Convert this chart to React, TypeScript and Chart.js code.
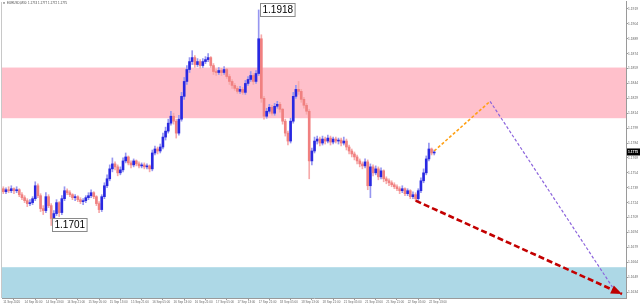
import React, { useEffect, useRef } from 'react';
import { Chart, registerables } from 'chart.js';

Chart.register(...registerables);

const SYMBOL = 'EURUSD,M30';

// time-axis labels, one every BARS_PER_LABEL bars
const timeLabels = [
  '11 Sep 2020', '14 Sep 05:00', '14 Sep 13:00', '14 Sep 21:00', '15 Sep 05:00',
  '15 Sep 13:00', '15 Sep 21:00', '16 Sep 05:00', '16 Sep 13:00', '16 Sep 21:00',
  '17 Sep 05:00', '17 Sep 13:00', '17 Sep 21:00', '18 Sep 05:00', '18 Sep 13:00',
  '18 Sep 21:00', '21 Sep 05:00', '21 Sep 13:00', '21 Sep 21:00', '22 Sep 05:00',
  '22 Sep 13:00',
];
const BARS_PER_LABEL = 8;

const firstOpen = 1.1738;

const closes = [
  1.1735, 1.1737, 1.1736, 1.1738, 1.1736, 1.1737, 1.1732, 1.1729, 1.1726, 1.1723,
  1.1724, 1.1728, 1.1741, 1.1731, 1.1718, 1.1716, 1.1730, 1.1721, 1.1708, 1.1713,
  1.1724, 1.1714, 1.1728, 1.1736, 1.1734, 1.1732, 1.1729, 1.1730, 1.1727, 1.1725,
  1.1726, 1.1729, 1.1731, 1.1734, 1.1730, 1.1723, 1.1717, 1.1730, 1.1741, 1.1748,
  1.1758, 1.1763, 1.1760, 1.1754, 1.1757, 1.1766, 1.1770, 1.1764, 1.1762, 1.1766,
  1.1763, 1.1761, 1.1762, 1.1760, 1.1761, 1.1758, 1.1774, 1.1778, 1.1776, 1.1780,
  1.1790, 1.1796, 1.1804, 1.1811, 1.1806, 1.1794, 1.1808, 1.1831, 1.1846, 1.1858,
  1.1866, 1.1870, 1.1863, 1.1866, 1.1862, 1.1866, 1.1868, 1.1870, 1.1862, 1.1856,
  1.1855, 1.1857, 1.1855, 1.1858, 1.1851, 1.1846, 1.1842, 1.1839, 1.1836, 1.1838,
  1.1835, 1.1844, 1.1848, 1.1852, 1.1846, 1.1854, 1.1889, 1.1829, 1.1811, 1.1816,
  1.1820, 1.1814, 1.1821, 1.1823, 1.1818, 1.1806, 1.1794, 1.1786, 1.1806, 1.1831,
  1.1838, 1.1836, 1.1828, 1.1822, 1.1816, 1.1766, 1.1776, 1.1786, 1.1788, 1.1784,
  1.1788, 1.1786, 1.1789, 1.1785, 1.1788, 1.1786, 1.1787, 1.1784, 1.1786, 1.1780,
  1.1776, 1.1773, 1.1770, 1.1766, 1.1763, 1.1761, 1.1765, 1.1741, 1.1760, 1.1754,
  1.1758, 1.1750, 1.1756, 1.1748, 1.1746, 1.1744, 1.1742, 1.1740, 1.1738, 1.1736,
  1.1738, 1.1733, 1.1736, 1.1730, 1.1732, 1.1728, 1.1736, 1.1746, 1.1754, 1.1768,
  1.1778, 1.1774, 1.1775,
];

const highs = [
  1.1740, 1.1739, 1.1740, 1.1741, 1.1739, 1.1740, 1.1738, 1.1734, 1.1731, 1.1728,
  1.1727, 1.1730, 1.1745, 1.1743, 1.1733, 1.1721, 1.1734, 1.1732, 1.1723, 1.1716,
  1.1727, 1.1725, 1.1731, 1.1740, 1.1738, 1.1736, 1.1733, 1.1732, 1.1731, 1.1729,
  1.1728, 1.1731, 1.1734, 1.1737, 1.1735, 1.1731, 1.1725, 1.1732, 1.1744, 1.1752,
  1.1762, 1.1769, 1.1765, 1.1762, 1.1760, 1.1769, 1.1774, 1.1771, 1.1766, 1.1768,
  1.1767, 1.1765, 1.1764, 1.1764, 1.1763, 1.1762, 1.1777, 1.1781, 1.1780, 1.1783,
  1.1794, 1.1800, 1.1808, 1.1816, 1.1814, 1.1808, 1.1812, 1.1835, 1.1850, 1.1862,
  1.1870, 1.1877, 1.1872, 1.1869, 1.1868, 1.1869, 1.1871, 1.1874, 1.1871, 1.1864,
  1.1858, 1.1860, 1.1859, 1.1861, 1.1859, 1.1853, 1.1848, 1.1844, 1.1841, 1.1841,
  1.1840, 1.1847, 1.1851, 1.1856, 1.1854, 1.1857, 1.1918, 1.1893, 1.1831, 1.1819,
  1.1823, 1.1822, 1.1824, 1.1826, 1.1825, 1.1819, 1.1808, 1.1796, 1.1809, 1.1835,
  1.1842, 1.1846, 1.1838, 1.1830, 1.1824, 1.1818, 1.1779, 1.1790, 1.1791, 1.1790,
  1.1791, 1.1790, 1.1792, 1.1791, 1.1790, 1.1790, 1.1789, 1.1789, 1.1790, 1.1788,
  1.1782, 1.1778, 1.1775, 1.1772, 1.1768, 1.1765, 1.1768, 1.1767, 1.1763, 1.1762,
  1.1761, 1.1760, 1.1759, 1.1757, 1.1750, 1.1748, 1.1746, 1.1744, 1.1742, 1.1740,
  1.1741, 1.1739, 1.1738, 1.1737, 1.1735, 1.1734, 1.1738, 1.1749, 1.1758, 1.1771,
  1.1784, 1.1779, 1.1777,
];

const lows = [
  1.1733, 1.1733, 1.1734, 1.1734, 1.1733, 1.1734, 1.1730, 1.1727, 1.1724, 1.1720,
  1.1721, 1.1722, 1.1726, 1.1729, 1.1715, 1.1712, 1.1714, 1.1719, 1.1701, 1.1705,
  1.1711, 1.1710, 1.1712, 1.1726, 1.1732, 1.1730, 1.1727, 1.1726, 1.1725, 1.1723,
  1.1722, 1.1724, 1.1727, 1.1729, 1.1728, 1.1721, 1.1714, 1.1715, 1.1728, 1.1739,
  1.1746, 1.1755, 1.1757, 1.1751, 1.1752, 1.1755, 1.1764, 1.1762, 1.1759, 1.1760,
  1.1761, 1.1759, 1.1759, 1.1758, 1.1758, 1.1755, 1.1756, 1.1772, 1.1773, 1.1774,
  1.1778, 1.1787, 1.1794, 1.1802, 1.1803, 1.1789, 1.1792, 1.1806, 1.1828, 1.1843,
  1.1855, 1.1863, 1.1860, 1.1861, 1.1859, 1.1860, 1.1864, 1.1866, 1.1860, 1.1853,
  1.1852, 1.1853, 1.1852, 1.1853, 1.1849, 1.1843, 1.1839, 1.1837, 1.1834, 1.1834,
  1.1833, 1.1833, 1.1842, 1.1846, 1.1843, 1.1844, 1.1852, 1.1825, 1.1808, 1.1809,
  1.1814, 1.1812, 1.1812, 1.1819, 1.1815, 1.1803, 1.1791, 1.1782, 1.1784, 1.1804,
  1.1829, 1.1833, 1.1825, 1.1819, 1.1813, 1.1748, 1.1762, 1.1774, 1.1783, 1.1781,
  1.1782, 1.1783, 1.1784, 1.1782, 1.1783, 1.1784, 1.1783, 1.1781, 1.1782, 1.1777,
  1.1773, 1.1770, 1.1767, 1.1763, 1.1760, 1.1758, 1.1759, 1.1737, 1.1729, 1.1751,
  1.1752, 1.1747, 1.1748, 1.1745, 1.1743, 1.1741, 1.1740, 1.1738, 1.1736, 1.1733,
  1.1734, 1.1731, 1.1731, 1.1728, 1.1728, 1.1726, 1.1726, 1.1734, 1.1744, 1.1752,
  1.1766, 1.1772, 1.1772,
];

const priceTicks = [
  1.1634, 1.1649, 1.1664, 1.1679, 1.1694, 1.1709, 1.1724, 1.1739, 1.1754, 1.1769,
  1.1784, 1.1799, 1.1814, 1.1829, 1.1844, 1.1859, 1.1874, 1.1889, 1.1904, 1.1919,
];

// zones [low, high]
const resistanceZone = [1.1809, 1.1860];
const supportZone = [1.1628, 1.1659];

// forecast paths: [barIndex, price]
const forecastOrange = [[162, 1.1776], [183, 1.1826]];
const forecastPurple = [[183, 1.1826], [229, 1.1639]];
const forecastRed = [[155, 1.1726], [232.6, 1.1632]];

const X_MIN = -0.5;
const X_MAX = 234.1;
const Y_MIN = 1.1628;
const Y_MAX = 1.1926;

const UP_BODY = 'rgb(40,40,225)';
const DOWN_BODY = 'rgb(240,128,128)';
const UP_WICK = 'rgb(150,150,240)';
const DOWN_WICK = 'rgb(246,170,170)';

const opens = closes.map((_, i) => (i === 0 ? firstOpen : closes[i - 1]));

const TICK_FONT = 'Liberation Sans';

export default function App() {
  const ref = useRef<HTMLCanvasElement | null>(null);

  useEffect(() => {
    const canvas = ref.current;
    if (!canvas) return;

    const isUp = closes.map((c, i) => c >= opens[i]);

    let hiIdx = 0;
    let loIdx = 0;
    highs.forEach((h, i) => { if (h > highs[hiIdx]) hiIdx = i; });
    lows.forEach((l, i) => { if (l < lows[loIdx]) loIdx = i; });

    const toPts = (arr: number[][]) => arr.map(([x, y]) => ({ x, y }));

    const bgPlugin = {
      id: 'bgzones',
      beforeDraw(chart: any) {
        const { ctx, width, height } = chart;
        ctx.save();
        ctx.fillStyle = '#ffffff';
        ctx.fillRect(0, 0, width, height);
        ctx.restore();
      },
      beforeDatasetsDraw(chart: any) {
        const { ctx, chartArea, scales } = chart;
        const { left, right, top, bottom } = chartArea;
        const y = scales.y;
        const zone = (z: number[], color: string) => {
          const y1 = Math.max(top, y.getPixelForValue(z[1]));
          const y2 = Math.min(bottom, y.getPixelForValue(z[0]));
          ctx.fillStyle = color;
          ctx.fillRect(left, y1, right - left, y2 - y1);
        };
        ctx.save();
        zone(resistanceZone, 'rgb(255,192,203)');
        zone(supportZone, 'rgb(173,216,230)');
        // left frame line
        ctx.strokeStyle = '#c8c8c8';
        ctx.lineWidth = 1;
        ctx.beginPath();
        ctx.moveTo(left - 0.5, top);
        ctx.lineTo(left - 0.5, bottom);
        ctx.stroke();
        ctx.restore();
      },
      afterDatasetsDraw(chart: any) {
        const { ctx, chartArea, scales } = chart;
        const xs = scales.x;
        const ys = scales.y;
        ctx.save();

        // arrow head on the red forecast
        const redMeta = chart.getDatasetMeta(4);
        const pts = redMeta.data;
        if (pts && pts.length >= 2) {
          const p0 = pts[pts.length - 2];
          const p1 = pts[pts.length - 1];
          const ang = Math.atan2(p1.y - p0.y, p1.x - p0.x);
          const len = 11;
          const half = 4.5;
          const bx = p1.x - len * Math.cos(ang);
          const by = p1.y - len * Math.sin(ang);
          ctx.fillStyle = 'rgb(190,0,0)';
          ctx.beginPath();
          ctx.moveTo(p1.x, p1.y);
          ctx.lineTo(bx + half * Math.sin(ang), by - half * Math.cos(ang));
          ctx.lineTo(bx - half * Math.sin(ang), by + half * Math.cos(ang));
          ctx.closePath();
          ctx.fill();
        }

        // extreme labels
        const label = (idx: number, price: number) => {
          const px = xs.getPixelForValue(idx);
          const py = ys.getPixelForValue(price);
          const txt = price.toFixed(4);
          ctx.font = `10px "${TICK_FONT}"`;
          const w = ctx.measureText(txt).width + 4;
          const bx = Math.round(px + 1) + 0.5;
          const by = Math.round(py - 7) + 0.5;
          ctx.fillStyle = 'rgba(255,255,255,0.9)';
          ctx.fillRect(bx, by, w, 13);
          ctx.strokeStyle = '#8a8a8a';
          ctx.lineWidth = 1;
          ctx.strokeRect(bx, by, w, 13);
          ctx.fillStyle = '#000';
          ctx.textBaseline = 'middle';
          ctx.textAlign = 'left';
          ctx.fillText(txt, bx + 2, by + 7);
        };
        label(hiIdx, highs[hiIdx]);
        label(loIdx, lows[loIdx]);
        ctx.restore();
      },
      afterDraw(chart: any) {
        const { ctx, chartArea, scales, width } = chart;
        const ys = scales.y;
        ctx.save();
        // current price marker
        const last = closes[closes.length - 1];
        const py = ys.getPixelForValue(last);
        ctx.fillStyle = '#000';
        ctx.fillRect(chartArea.right + 1, py - 3.5, width - chartArea.right - 1, 7);
        ctx.fillStyle = '#fff';
        ctx.font = `bold 3.3px "${TICK_FONT}"`;
        ctx.textBaseline = 'middle';
        ctx.textAlign = 'left';
        ctx.fillText(last.toFixed(4), chartArea.right + 2, py);

        // header
        const n = closes.length - 1;
        ctx.fillStyle = '#333';
        ctx.beginPath();
        ctx.moveTo(3, 2.5);
        ctx.lineTo(5, 2.5);
        ctx.lineTo(4, 4);
        ctx.closePath();
        ctx.fill();
        ctx.font = `3px "${TICK_FONT}"`;
        ctx.fillStyle = '#444';
        ctx.fillText(
          `${SYMBOL}  ${opens[n].toFixed(4)} ${highs[n].toFixed(4)} ${lows[n].toFixed(4)} ${closes[n].toFixed(4)}`,
          7,
          3.3,
        );
        ctx.restore();
      },
    };

    const chart = new Chart(canvas, {
      type: 'bar',
      data: {
        datasets: [
          {
            type: 'bar',
            label: 'wick',
            data: closes.map((_, i) => ({ x: i, y: [lows[i], highs[i]] })) as any,
            backgroundColor: isUp.map((u) => (u ? UP_WICK : DOWN_WICK)),
            barThickness: 1,
            grouped: false,
            minBarLength: 1,
            order: 5,
          } as any,
          {
            type: 'bar',
            label: 'body',
            data: closes.map((c, i) => ({ x: i, y: [opens[i], c] })) as any,
            backgroundColor: isUp.map((u) => (u ? UP_BODY : DOWN_BODY)),
            barThickness: 2,
            grouped: false,
            minBarLength: 1,
            order: 4,
          } as any,
          {
            type: 'line',
            label: 'orange',
            data: toPts(forecastOrange) as any,
            borderColor: 'rgb(255,160,20)',
            borderWidth: 1.6,
            borderDash: [3, 2],
            pointRadius: 0,
            fill: false,
            order: 2,
          } as any,
          {
            type: 'line',
            label: 'purple',
            data: toPts(forecastPurple) as any,
            borderColor: 'rgb(140,100,220)',
            borderWidth: 1.2,
            borderDash: [3, 2],
            pointRadius: 0,
            fill: false,
            order: 3,
          } as any,
          {
            type: 'line',
            label: 'red',
            data: toPts(forecastRed) as any,
            borderColor: 'rgb(195,0,0)',
            borderWidth: 2.6,
            borderDash: [6, 3],
            pointRadius: 0,
            fill: false,
            order: 1,
          } as any,
        ],
      },
      options: {
        responsive: false,
        animation: false,
        events: [],
        layout: { padding: { left: 2, top: 0, right: 0, bottom: 0 } },
        plugins: { legend: { display: false }, tooltip: { enabled: false } },
        scales: {
          x: {
            type: 'linear',
            min: X_MIN,
            max: X_MAX,
            offset: false,
            border: { display: true, color: '#9a9a9a', width: 1 },
            grid: { display: true, drawOnChartArea: false, drawTicks: true, tickLength: 2, color: '#9a9a9a' },
            ticks: {
              autoSkip: false,
              maxRotation: 0,
              minRotation: 0,
              align: 'start',
              padding: 0,
              color: '#666',
              font: { family: TICK_FONT, size: 3 },
              callback: (v: any) => timeLabels[Math.round(Number(v) / BARS_PER_LABEL)] ?? '',
            },
            afterBuildTicks: (scale: any) => {
              scale.ticks = timeLabels.map((_, k) => ({ value: k * BARS_PER_LABEL }));
            },
            afterFit: (scale: any) => {
              scale.height = 8;
            },
          } as any,
          y: {
            type: 'linear',
            position: 'right',
            min: Y_MIN,
            max: Y_MAX,
            border: { display: true, color: '#9a9a9a', width: 1 },
            grid: { display: true, drawOnChartArea: false, drawTicks: true, tickLength: 2, color: '#9a9a9a' },
            ticks: {
              padding: 0,
              color: '#666',
              font: { family: TICK_FONT, size: 3.3 },
              callback: (v: any) => Number(v).toFixed(4),
            },
            afterBuildTicks: (scale: any) => {
              scale.ticks = priceTicks.map((v) => ({ value: v }));
            },
            afterFit: (scale: any) => {
              scale.width = 14;
            },
          } as any,
        },
      },
      plugins: [bgPlugin],
    });

    return () => chart.destroy();
  }, []);

  return (
    <div style={{ position: 'absolute', left: 0, top: 0, width: 640, height: 306, background: '#fff' }}>
      <canvas ref={ref} width={640} height={306} style={{ display: 'block', width: 640, height: 306 }} />
    </div>
  );
}
